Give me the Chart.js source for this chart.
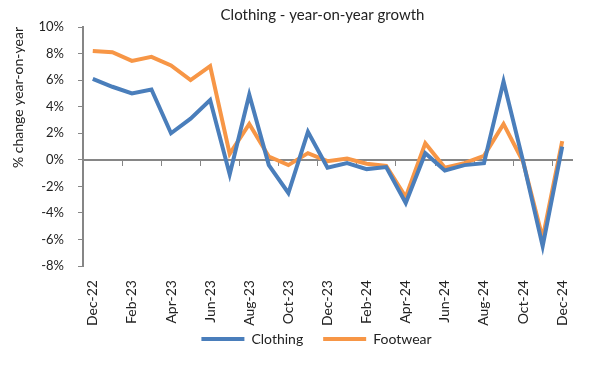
<!DOCTYPE html>
<html>
<head>
<meta charset="utf-8">
<script src="https://cdn.jsdelivr.net/npm/chart.js@4"></script>
<style>
  body { margin: 0; background: #fff; }
</style>
</head>
<body>
<canvas id="myChart" width="600" height="374"></canvas>
<script>
// months on the x axis (only every other one gets a label)
const months = ['Dec-22','Jan-23','Feb-23','Mar-23','Apr-23','May-23','Jun-23','Jul-23','Aug-23','Sep-23','Oct-23','Nov-23',
    'Dec-23','Jan-24','Feb-24','Mar-24','Apr-24','May-24','Jun-24','Jul-24','Aug-24','Sep-24','Oct-24','Nov-24','Dec-24'];
// % change year-on-year
const clothing = [6.1,5.5,5.0,5.3,2.0,3.1,4.5,-1.1,4.9,-0.4,-2.5,2.1,
    -0.6,-0.25,-0.7,-0.55,-3.25,0.5,-0.8,-0.4,-0.25,5.9,-0.1,-6.5,1.0];
const footwear = [8.2,8.1,7.45,7.75,7.1,6.0,7.05,0.45,2.7,0.25,-0.4,0.5,
    -0.1,0.1,-0.3,-0.45,-2.8,1.25,-0.6,-0.25,0.3,2.7,-0.15,-5.9,1.4];
const yMin = -8, yMax = 10, yStep = 2;

const axisGrey = '#868686';
const font = "Lato, 'Open Sans', sans-serif";

// pull the legend up, close under the rotated month labels, and nudge title/legend left
const legendUp = {
    id: 'legendUp',
    afterLayout: function(chart) {
        var lg = chart.legend;
        var shift = lg.top - chart.scales.x.bottom + 28;
        lg.top -= shift;
        lg.bottom -= shift;
        lg.left -= 11;
        lg.right -= 11;
        chart.titleBlock.left -= 5;
        chart.titleBlock.right -= 5;
    }
};

var ctx = document.getElementById('myChart').getContext('2d');
var myChart = new Chart(ctx, {
    type: 'line',
    data: {
        labels: months,
        datasets: [{
            label: 'Clothing',
            data: clothing,
            borderColor: '#4A7EBB',
            backgroundColor: '#4A7EBB',
            borderWidth: 4,
            pointRadius: 0,
            tension: 0
        }, {
            label: 'Footwear',
            data: footwear,
            borderColor: '#F79646',
            backgroundColor: '#F79646',
            borderWidth: 4,
            pointRadius: 0,
            tension: 0
        }]
    },
    plugins: [legendUp],
    options: {
        responsive: false,
        animation: false,
        layout: { padding: { left: 4, right: 28, top: 4, bottom: -10 } },
        font: { family: font },
        plugins: {
            title: {
                display: true,
                text: 'Clothing - year-on-year growth',
                color: '#222',
                fullSize: false,
                font: { family: font, size: 15, weight: 'normal' },
                padding: { top: 2, bottom: 3 }
            },
            legend: {
                position: 'bottom',
                fullSize: false,
                labels: {
                    usePointStyle: true,
                    pointStyle: 'line',
                    pointStyleWidth: 43,
                    padding: 20,
                    color: '#222',
                    font: { family: font, size: 14 }
                }
            },
            tooltip: { enabled: false }
        },
        scales: {
            x: {
                offset: true,
                grid: { display: false, drawTicks: false },
                border: { display: false },
                ticks: {
                    autoSkip: false,
                    minRotation: 90,
                    maxRotation: 90,
                    padding: 14,
                    color: '#222',
                    font: { family: font, size: 14 },
                    callback: function(v, i) { return i % 2 === 0 ? months[i] : ''; }
                }
            },
            // zero line with its tick marks
            x2: {
                type: 'category',
                labels: months,
                offset: true,
                position: { y: 0 },
                ticks: { display: false },
                border: { color: axisGrey, width: 2 },
                grid: {
                    offset: true,
                    drawOnChartArea: false,
                    drawTicks: true,
                    tickLength: 5,
                    color: function(c) {
                        return (c.type === 'tick' && c.index > 0 && c.index % 2 === 0) ? axisGrey : 'rgba(0,0,0,0)';
                    }
                },
                afterFit: function(scale) { scale.height = 0; }
            },
            y: {
                min: yMin,
                max: yMax,
                ticks: {
                    stepSize: yStep,
                    padding: 14,
                    color: '#222',
                    font: { family: font, size: 13 },
                    callback: function(v) { return v + '%'; }
                },
                grid: { drawOnChartArea: false, drawTicks: true, tickLength: 5, color: axisGrey },
                border: { color: axisGrey, width: 2 },
                title: {
                    display: true,
                    text: '% change year-on-year',
                    align: 'end',
                    color: '#222',
                    font: { family: font, size: 14 },
                    padding: { top: 6, bottom: 0 }
                },
                afterFit: function(scale) { scale.width = 79; }
            }
        }
    }
});
</script>
</body>
</html>
